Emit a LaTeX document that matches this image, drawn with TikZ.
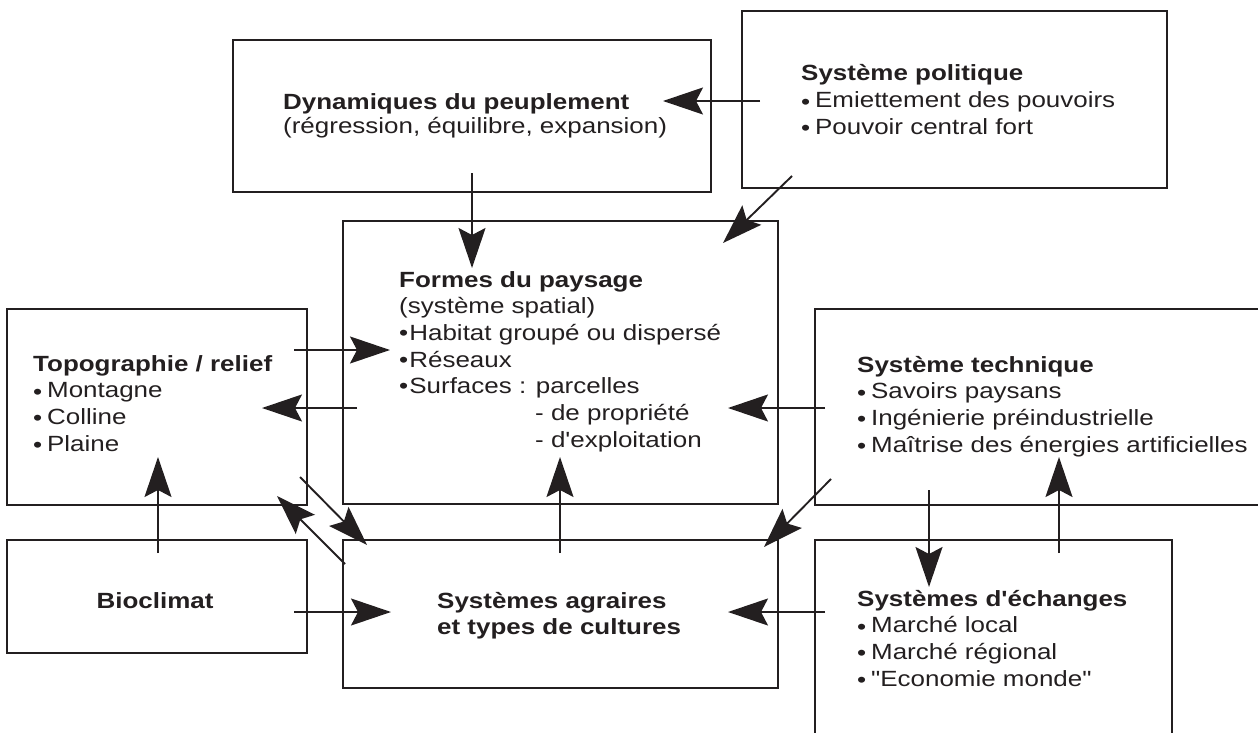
\documentclass[tikz,border=0pt]{standalone}
\usepackage{fontspec}
\setmainfont{Liberation Sans}[FakeStretch=1.18,Ligatures=TeXOff]
\usetikzlibrary{arrows.meta}
\definecolor{ink}{RGB}{35,31,32}
\newcommand\lbul{\raisebox{-0.07em}{•}\hspace{0.22em}}
\newcommand\mbul{•\hspace{0.05em}}
\newcommand\lines[1]{\begin{tabular}[t]{@{}l@{}}#1\end{tabular}}
\begin{document}
\begin{tikzpicture}[x=1pt,y=-1pt,
  box/.style={draw=ink,line width=2.2pt,rectangle,anchor=north west,inner sep=0pt,outer sep=0pt},
  arr/.style={draw=ink,line width=1.9pt,-{Stealth[length=40pt,width=27pt,inset=7pt]}},
  txt/.style={anchor=base west,inner sep=0pt,text=ink,font=\fontsize{22}{26.7}\selectfont}]
\clip (0,0) rectangle (1258,733);
% boxes
\node[box,minimum width=478pt,minimum height=152pt] (dyn) at (233,40) {};
\node[box,minimum width=425pt,minimum height=177pt] (pol) at (742,11) {};
\node[box,minimum width=435pt,minimum height=283pt] (formes) at (343,221) {};
\node[box,minimum width=300pt,minimum height=196pt] (topo) at (7,309) {};
\node[box,minimum width=447pt,minimum height=196pt] (tech) at (815,309) {};
\node[box,minimum width=300pt,minimum height=113pt] (bio) at (7,540) {};
\node[box,minimum width=435pt,minimum height=148pt] (agr) at (343,540) {};
\node[box,minimum width=357pt,minimum height=220pt] (ech) at (815,540) {};
% texts
\node[txt] (tdyn) at (283,110) {\lines{\textbf{Dynamiques du peuplement}\\[-2.7pt](régression, équilibre, expansion)}};
\node[txt] (tpol) at (801,81) {\lines{\textbf{Système politique}\\\lbul Emiettement des pouvoirs\\\lbul Pouvoir central fort}};
\node[txt] (tformes) at (399,287) {\lines{\textbf{Formes du paysage}\\(système spatial)\\\mbul Habitat groupé ou dispersé\\\mbul Réseaux\\\mbul Surfaces : parcelles\\\hspace*{136pt}- de propriété\\\hspace*{136pt}- d'exploitation}};
\node[txt] (ttopo) at (33,371) {\lines{\textbf{Topographie / relief}\\\lbul Montagne\\\lbul Colline\\\lbul Plaine}};
\node[txt] (ttech) at (857,372) {\lines{\textbf{Système technique}\\\lbul Savoirs paysans\\\lbul Ingénierie préindustrielle\\\lbul Maîtrise des énergies artificielles}};
\node[txt] (tech2) at (857,606) {\lines{\textbf{Systèmes d'échanges}\\\lbul Marché local\\\lbul Marché régional\\\lbul "Economie monde"}};
\node[txt] (tagr) at (437,608) {\lines{\textbf{Systèmes agraires}\\\textbf{et types de cultures}}};
\node[txt,anchor=base] (tbio) at (155,608) {\textbf{Bioclimat}};
% connector ends
\coordinate (a1s) at (760,101);  \coordinate (a1e) at (663,101);
\coordinate (a2s) at (472,173);  \coordinate (a2e) at (472,268);
\coordinate (a3s) at (792,176);  \coordinate (a3e) at (723,243);
\coordinate (a4s) at (294,350);  \coordinate (a4e) at (390,350);
\coordinate (a5s) at (357,408);  \coordinate (a5e) at (262,408);
\coordinate (a6s) at (158,553);  \coordinate (a6e) at (158,457);
\coordinate (a7s) at (300,477);  \coordinate (a7e) at (367,545);
\coordinate (a8s) at (345,564);  \coordinate (a8e) at (277,496);
\coordinate (a9s) at (560,553);  \coordinate (a9e) at (560,457);
\coordinate (a10s) at (831,479); \coordinate (a10e) at (764,547);
\coordinate (a11s) at (825,408); \coordinate (a11e) at (728,408);
\coordinate (a12s) at (929,490); \coordinate (a12e) at (929,587);
\coordinate (a13s) at (1059,553); \coordinate (a13e) at (1059,457);
\coordinate (a14s) at (825,612); \coordinate (a14e) at (728,612);
\coordinate (a15s) at (294,612); \coordinate (a15e) at (391,612);
% connectors
\foreach \i in {1,...,15}{\draw[arr] (a\i s) -- (a\i e);}
\end{tikzpicture}
\end{document}
